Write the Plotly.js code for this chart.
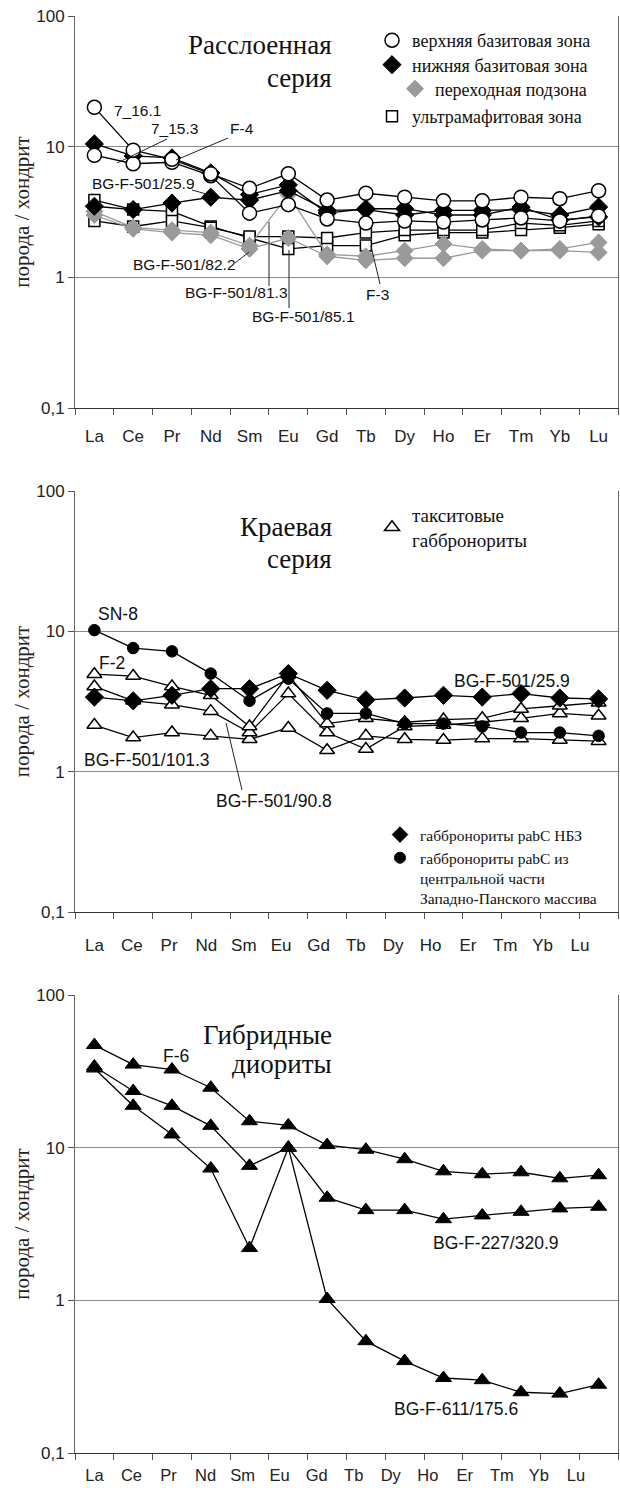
<!DOCTYPE html>
<html><head><meta charset="utf-8">
<script src="https://cdn.plot.ly/plotly-3.0.1.min.js"></script>
<style>html,body{margin:0;padding:0;background:#fff}#chart{width:620px;height:1488px}</style>
</head><body><div id="chart"></div>
<script>
// ---------- data ----------
const categories = ['La','Ce','Pr','Nd','Sm','Eu','Gd','Tb','Dy','Ho','Er','Tm','Yb','Lu'];
const yTickVals = [0.1, 1, 10, 100];
const yTickText = ['0,1', '1', '10', '100'];

// Panel 1 — Расслоенная серия
const upper_7_16_1   = [20, 9.4, 8.0, 6.2, 4.8, 6.2, 3.9, 4.4, 4.1, 3.85, 3.85, 4.1, 4.0, 4.6];
const upper_7_15_3   = [8.6, 7.4, 7.6, 6.0, 3.1, 3.6, 2.8, 2.6, 2.7, 2.65, 2.75, 2.85, 2.7, 2.95];
const lower_F_4      = [10.5, 8.5, 8.2, 6.3, 4.3, 5.1, 3.1, 3.35, 3.35, 3.0, 3.0, 3.45, 2.75, 2.9];
const lower_501_25_9 = [3.5, 3.3, 3.7, 4.1, 3.9, 4.6, 3.25, 3.3, 3.0, 3.25, 3.25, 3.3, 3.0, 3.45];
const trans_501_81_3 = [3.2, 2.4, 2.3, 2.2, 1.75, 4.3, 1.5, 1.45, 1.6, 1.8, 1.65, 1.6, 1.65, 1.85];
const trans_501_82_2 = [3.0, 2.35, 2.2, 2.1, 1.65, 2.0, 1.45, 1.35, 1.4, 1.4, 1.6, 1.6, 1.6, 1.55];
const ultra_501_85_1 = [3.9, 3.3, 3.2, 2.45, 2.0, 1.65, 1.75, 1.75, 2.1, 2.2, 2.2, 2.3, 2.4, 2.55];
const ultra_F_3      = [2.7, 2.45, 2.7, 2.4, 2.05, 2.05, 2.0, 2.2, 2.3, 2.3, 2.3, 2.6, 2.5, 2.7];

// Panel 2 — Краевая серия
const central_SN_8     = [10.2, 7.6, 7.2, 5.0, 3.2, 4.6, 2.6, 2.6, 2.2, 2.2, 2.1, 1.9, 1.9, 1.8];
const nbz_501_25_9     = [3.4, 3.2, 3.5, 3.9, 3.9, 5.0, 3.8, 3.25, 3.35, 3.5, 3.4, 3.6, 3.35, 3.3];
const taxit_F_2        = [4.95, 4.8, 4.05, 3.5, 2.1, 4.9, 2.2, 2.4, 2.25, 2.35, 2.4, 2.8, 2.95, 3.1];
const taxit_501_90_8   = [4.05, 3.2, 3.0, 2.7, 1.9, 3.6, 1.9, 1.45, 2.1, 2.15, 2.25, 2.4, 2.6, 2.5];
const taxit_501_101_3  = [2.15, 1.75, 1.9, 1.8, 1.7, 2.05, 1.42, 1.8, 1.7, 1.68, 1.72, 1.72, 1.68, 1.65];

// Panel 3 — Гибридные диориты
const hyb_F_6          = [47, 35, 32.5, 24.7, 14.9, 14, 10.4, 9.7, 8.4, 7.0, 6.7, 6.9, 6.3, 6.6];
const hyb_227_320_9    = [34, 23.5, 18.8, 13.9, 7.6, 10, 4.7, 3.9, 3.9, 3.4, 3.6, 3.8, 4.0, 4.1];
const hyb_611_175_6    = [33, 18.8, 12.2, 7.3, 2.2, 10, 1.02, 0.54, 0.40, 0.31, 0.30, 0.25, 0.245, 0.28];

// ---------- geometry helpers ----------
const W = 620, H = 1488;
const M = {l: 75, r: 2, t: 16, b: 35};
const PW = W - M.l - M.r, PH = H - M.t - M.b;
const px = v => (v - M.l) / PW;
const py = v => (H - M.b - v) / PH;

const SERIF = 'Liberation Serif, Times New Roman, serif';
const SANS = 'Liberation Sans, Arial, sans-serif';
const GRAY = '#9a9a9a';

const xIdx = categories.map((c, i) => i);

const mk = {
  openCircle:  {symbol: 'circle', size: 14, color: '#fff', line: {color: '#000', width: 1.5}},
  blackDiamond:{symbol: 'diamond', size: 14, color: '#000', line: {color: '#000', width: 1}},
  grayDiamond: {symbol: 'diamond', size: 13, color: GRAY, line: {color: GRAY, width: 1}},
  openSquare:  {symbol: 'square', size: 11, color: '#fff', line: {color: '#000', width: 1.5}},
  openTri:     {symbol: 'triangle-up', size: 13, color: '#fff', line: {color: '#000', width: 1.5}},
  blackCircle: {symbol: 'circle', size: 11.5, color: '#000', line: {color: '#000', width: 1}},
  blackTri:    {symbol: 'triangle-up', size: 14, color: '#000', line: {color: '#000', width: 1}}
};

function series(values, n, marker, lineColor) {
  const s = n === 1 ? '' : String(n);
  return {type: 'scatter', mode: 'lines+markers', x: xIdx, y: values,
    xaxis: 'x' + s, yaxis: 'y' + s, cliponaxis: false,
    line: {color: lineColor || '#000', width: 1.3}, marker: marker,
    showlegend: false, hoverinfo: 'skip'};
}
function legendItem(name, n, marker, legend) {
  const s = n === 1 ? '' : String(n);
  return {type: 'scatter', mode: 'markers', x: [null], y: [null], xaxis: 'x' + s, yaxis: 'y' + s,
    name: name, marker: marker, showlegend: true, legend: legend, hoverinfo: 'skip'};
}

const traces = [
  series(ultra_501_85_1, 1, mk.openSquare),
  series(ultra_F_3, 1, mk.openSquare),
  series(trans_501_81_3, 1, mk.grayDiamond, GRAY),
  series(trans_501_82_2, 1, mk.grayDiamond, GRAY),
  series(lower_501_25_9, 1, mk.blackDiamond),
  series(lower_F_4, 1, mk.blackDiamond),
  series(upper_7_15_3, 1, mk.openCircle),
  series(upper_7_16_1, 1, mk.openCircle),

  series(taxit_501_101_3, 2, mk.openTri),
  series(taxit_501_90_8, 2, mk.openTri),
  series(taxit_F_2, 2, mk.openTri),
  series(nbz_501_25_9, 2, mk.blackDiamond),
  series(central_SN_8, 2, mk.blackCircle),

  series(hyb_611_175_6, 3, mk.blackTri),
  series(hyb_227_320_9, 3, mk.blackTri),
  series(hyb_F_6, 3, mk.blackTri),

  legendItem('верхняя базитовая зона', 1, mk.openCircle, 'legend'),
  legendItem('нижняя базитовая зона', 1, mk.blackDiamond, 'legend4'),
  legendItem('переходная подзона', 1, mk.grayDiamond, 'legend5'),
  legendItem('ультрамафитовая зона', 1, mk.openSquare, 'legend6'),
  legendItem('такситовые<br>габбронориты', 2, mk.openTri, 'legend2'),
  legendItem('габбронориты pabC НБЗ', 2, Object.assign({}, mk.blackDiamond, {size: 12}), 'legend3'),
  legendItem('габбронориты pabC из<br>центральной части<br>Западно-Панского массива', 2, Object.assign({}, mk.blackCircle, {size: 11}), 'legend3')
];

// ---------- axes ----------
const labelSpacing = [1, 0.963, 0.955];
const labelStandoff = [12, 17, 7];
const labelSize = [17, 17, 16.5];
function xAxis(n, anchor) {
  return {
    domain: [0, 1], anchor: anchor, range: [-0.5, 13.5], type: 'linear',
    tickmode: 'array', tickvals: xIdx.map(i => i * labelSpacing[n - 1]), ticktext: categories,
    ticks: '', showgrid: false, zeroline: false,
    showline: true, linecolor: '#333', linewidth: 1.2,
    tickfont: {family: SANS, size: labelSize[n - 1], color: '#222'}, ticklabelstandoff: labelStandoff[n - 1],
    minor: {tick0: -0.5, dtick: 1, ticks: 'outside', ticklen: 6, tickcolor: '#555', tickwidth: 1, showgrid: false},
    fixedrange: true
  };
}
function yAxis(domain, anchor) {
  return {
    domain: domain, anchor: anchor, type: 'log', range: [-1, 2],
    tickmode: 'array', tickvals: yTickVals, ticktext: yTickText,
    ticks: 'outside', ticklen: 6, tickcolor: '#555', tickwidth: 1,
    showgrid: true, gridcolor: '#8a8a8a', gridwidth: 1,
    showline: true, linecolor: '#666', linewidth: 1, mirror: true,
    zeroline: false, tickfont: {family: SANS, size: 17, color: '#222'},
    title: {text: 'порода / хондрит', font: {family: SERIF, size: 21, color: '#222'}, standoff: 0},
    fixedrange: true
  };
}

// ---------- annotations ----------
function txt(text, left, ymid, size, font) {
  return {text: text, xref: 'paper', yref: 'paper', x: px(left), y: py(ymid),
    xanchor: 'left', yanchor: 'middle', showarrow: false,
    font: {family: font || SANS, size: size, color: '#111'}};
}
function title(text, right, ymid, size) {
  return {text: text, xref: 'paper', yref: 'paper', x: px(right), y: py(ymid),
    xanchor: 'right', yanchor: 'middle', align: 'right', showarrow: false,
    font: {family: SERIF, size: size, color: '#111'}};
}
function leader(a, b) {
  return {type: 'line', xref: 'paper', yref: 'paper', x0: px(a[0]), y0: py(a[1]), x1: px(b[0]), y1: py(b[1]),
    line: {color: '#222', width: 1}};
}

const annotations = [
  title('Расслоенная', 334, 45, 27),
  title('серия', 334, 78, 27),
  title('Краевая', 334, 527, 27),
  title('серия', 334, 559, 27),
  title('Гибридные', 334, 1035, 27),
  title('диориты', 334, 1064, 27),

  txt('7_16.1', 112, 110, 15.5),
  txt('7_15.3', 149, 128, 15.5),
  txt('F-4', 228, 128, 15.5),
  txt('BG-F-501/25.9', 90, 183, 15.5),
  txt('BG-F-501/82.2', 131, 265, 15.5),
  txt('BG-F-501/81.3', 183, 293, 15.5),
  txt('BG-F-501/85.1', 250, 316, 15.5),
  txt('F-3', 364, 294, 15.5),

  txt('SN-8', 96, 614, 17.5),
  txt('F-2', 97, 663, 17.5),
  txt('BG-F-501/25.9', 452, 681, 17.5),
  txt('BG-F-501/101.3', 82, 760, 17.5),
  txt('BG-F-501/90.8', 214, 801, 17.5),

  txt('F-6', 161, 1056, 17.5),
  txt('BG-F-227/320.9', 431, 1243, 17.5),
  txt('BG-F-611/175.6', 392, 1409, 17.5)
];

const shapes = [
  leader([167, 139], [117, 163]),
  leader([228, 138], [176, 160]),
  leader([192, 190], [210, 195]),
  leader([235, 263], [249, 252]),
  leader([269, 286], [269, 222]),
  leader([289, 308], [289, 250]),
  leader([380, 284], [371, 246]),
  leader([242, 790], [226, 723])
];

const legendBase = {xanchor: 'left', yanchor: 'top', bgcolor: 'rgba(0,0,0,0)', borderwidth: 0,
  itemwidth: 30, itemclick: false, itemdoubleclick: false, tracegroupgap: 0};
const lgFont1 = {family: SERIF, size: 18, color: '#111'};

const layout = {
  width: W, height: H, margin: M, paper_bgcolor: '#fff', plot_bgcolor: '#fff',
  font: {family: SANS, color: '#111'},
  xaxis: xAxis(1, 'y'), yaxis: yAxis([py(408), py(16)], 'x'),
  xaxis2: xAxis(2, 'y2'), yaxis2: yAxis([py(912), py(491)], 'x2'),
  xaxis3: xAxis(3, 'y3'), yaxis3: yAxis([py(1453), py(995)], 'x3'),
  legend:  Object.assign({}, legendBase, {x: px(372), y: py(22), font: lgFont1}),
  legend4: Object.assign({}, legendBase, {x: px(372), y: py(46.5), font: lgFont1}),
  legend5: Object.assign({}, legendBase, {x: px(395), y: py(70.5), font: lgFont1}),
  legend6: Object.assign({}, legendBase, {x: px(372), y: py(98), font: lgFont1}),
  legend2: Object.assign({}, legendBase, {x: px(372), y: py(496), valign: 'middle', font: {family: SERIF, size: 19, color: '#111'}}),
  legend3: Object.assign({}, legendBase, {x: px(380), y: py(818), valign: 'top', font: {family: SERIF, size: 15.5, color: '#111'}}),
  annotations: annotations, shapes: shapes, showlegend: true
};

Plotly.newPlot('chart', traces, layout, {staticPlot: true, displayModeBar: false});
</script>
</body></html>
